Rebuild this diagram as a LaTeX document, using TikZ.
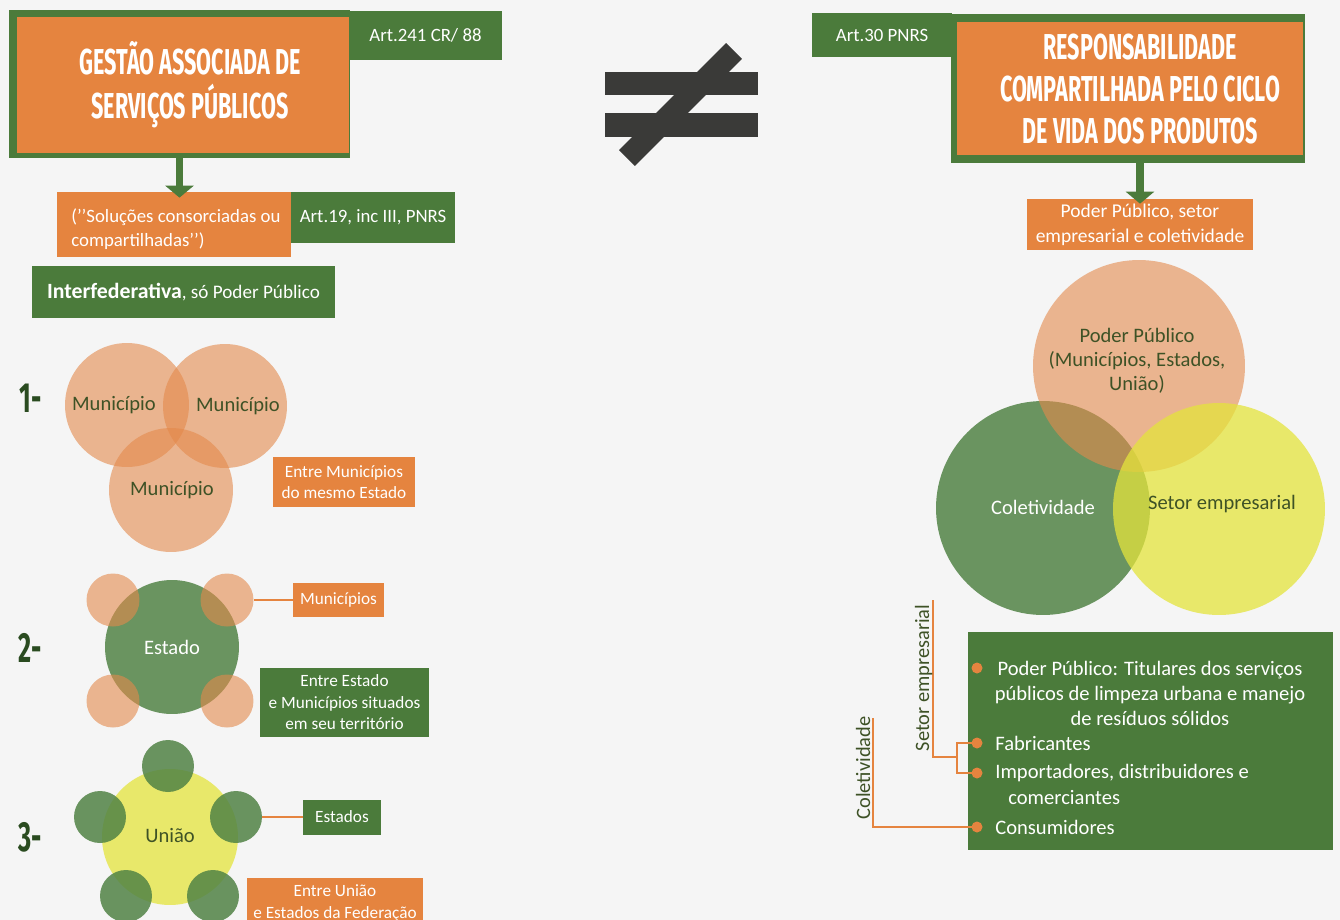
\documentclass[tikz,border=0pt]{standalone}
\usepackage{fontspec}
\setmainfont{Carlito}
\newfontfamily\condfont[FakeStretch=0.6]{Fira Sans}
\usetikzlibrary{arrows.meta}
\definecolor{bg}{HTML}{F5F5F5}
\definecolor{gbox}{HTML}{4B7B3B}
\definecolor{obox}{HTML}{E5843F}
\definecolor{numcol}{HTML}{2A4B20}
\definecolor{venntxt}{HTML}{3E5226}
\definecolor{ocircbase}{RGB}{228,137,75}
\definecolor{gcircle}{HTML}{6A9460}
\definecolor{ycircbase}{RGB}{228,228,60}
\definecolor{ycircle}{HTML}{E8E86A}
\definecolor{gsmallbase}{RGB}{81,131,69}
\definecolor{neqcol}{HTML}{3A3A38}
\tikzset{
  gboxst/.style={fill=gbox, text=white, inner sep=0pt, align=center, font=\fontsize{10.7}{13.5}\selectfont},
  oboxst/.style={fill=obox, text=white, inner sep=0pt, align=center, font=\fontsize{10.7}{13.5}\selectfont},
  smallst/.style={font=\fontsize{9.8}{12.2}\selectfont},
  titlest/.style={text=white, align=center, inner sep=0pt, font=\condfont\bfseries\fontsize{20.5}{25}\selectfont},
  numst/.style={text=numcol, inner sep=0pt, font=\condfont\bfseries\fontsize{24}{26}\selectfont},
  ocirc/.style={circle, fill=ocircbase, fill opacity=0.6, inner sep=0pt},
  gcirc/.style={circle, fill=gcircle, inner sep=0pt},
  ycirc/.style={circle, fill=ycircbase, fill opacity=0.75, inner sep=0pt},
  gsmall/.style={circle, fill=gsmallbase, fill opacity=0.85, inner sep=0pt},
  venntext/.style={text=venntxt, inner sep=0pt, align=center, font=\fontsize{11.7}{13.7}\selectfont},
  garrow/.style={draw=gbox, line width=4.5pt, -{Triangle[width=0.56cm,length=0.24cm]}},
  oline/.style={draw=obox, line width=0.9pt},
  bulletst/.style={circle, fill=obox, minimum size=0.22cm, inner sep=0pt},
  listtxt/.style={text=white, inner sep=0pt, align=center, font=\fontsize{11.7}{14.2}\selectfont},
  sidelabel/.style={text=venntxt, inner sep=0pt, rotate=90, anchor=base, font=\fontsize{11.6}{13}\selectfont},
}
\begin{document}
\begin{tikzpicture}[x=0.02cm, y=-0.02cm]
\useasboundingbox (0,0) rectangle (1340,920);
\fill[bg] (0,0) rectangle (1340,920);
\clip (0,0) rectangle (1340,920);

% ---------- not-equal sign ----------
\fill[neqcol] (605,72) rectangle (758,95);
\fill[neqcol] (605,113) rectangle (758,137);
\draw[neqcol, line width=0.45cm] (627,158) -- (734,51);

% ---------- left header ----------
\node[fill=gbox, minimum width=6.82cm, minimum height=2.96cm, inner sep=0pt] (lframe) at (179.5,84) {};
\node[fill=obox, minimum width=6.64cm, minimum height=2.72cm, inner sep=0pt] (lhead) at (183,85) {};
\node[titlest] (ltitle) at (190,85) {GESTÃO ASSOCIADA DE\\SERVIÇOS PÚBLICOS};
\node[gboxst, minimum width=3.06cm, minimum height=0.98cm] (art241) at (425.5,35.5) {Art.241 CR/ 88};

\node[oboxst, minimum width=4.68cm, minimum height=1.3cm] (sol) at (174,224.5) {};
\node[text=white, inner sep=0pt, anchor=west, align=left, font=\fontsize{10.7}{13.7}\selectfont] (soltext) at (71,229) {(’’Soluções consorciadas ou\\compartilhadas’’)};
\node[gboxst, minimum width=3.28cm, minimum height=1.02cm] (art19) at (373,217.5) {Art.19, inc III, PNRS};
\draw[garrow, shorten >=-0.12cm] (lframe.south) -- (lframe.south |- sol.north);
\node[gboxst, minimum width=6.06cm, minimum height=1.04cm, font=\fontsize{10.9}{13}\selectfont] (inter) at (183.5,292) {{\fontsize{12.4}{14}\selectfont\bfseries Interfederativa}, só Poder Público};

% ---------- section 1 ----------
\node[numst] (n1) at (31,398) {1-};
\node[ocirc, minimum size=2.48cm] (m1) at (127,405) {};
\node[ocirc, minimum size=2.48cm] (m2) at (225,406) {};
\node[ocirc, minimum size=2.48cm] (m3) at (171,490) {};
\node[venntext] (m1t) at (114,405) {Município};
\node[venntext] (m2t) at (238,406) {Município};
\node[venntext] (m3t) at (172,490) {Município};
\node[oboxst, smallst, minimum width=2.84cm, minimum height=1.0cm] (entremun) at (344,482) {Entre Municípios\\do mesmo Estado};

% ---------- section 2 ----------
\node[numst] (n2) at (30,648) {2-};
\node[gcirc, minimum size=2.68cm] (estado) at (172,647) {};
\node[ocirc, minimum size=1.06cm] (s2tl) at (113,600) {};
\node[ocirc, minimum size=1.06cm] (s2tr) at (227,600) {};
\node[ocirc, minimum size=1.06cm] (s2bl) at (113,701) {};
\node[ocirc, minimum size=1.06cm] (s2br) at (227,701) {};
\node[text=white, inner sep=0pt, font=\fontsize{11.7}{13}\selectfont] (estadot) at (172,647) {Estado};
\node[oboxst, smallst, minimum width=1.82cm, minimum height=0.68cm] (munbox) at (338.5,600) {Municípios};
\draw[oline] (s2tr.east) -- (munbox.west);
\node[gboxst, smallst, minimum width=3.38cm, minimum height=1.38cm] (entreest) at (344.5,702.5) {Entre Estado\\e Municípios situados\\em seu território};

% ---------- section 3 ----------
\node[numst] (n3) at (30,837) {3-};
\node[circle, fill=ycircle, inner sep=0pt, minimum size=2.72cm] (uniao) at (170,837) {};
\node[gsmall, minimum size=1.04cm] (s3t) at (168,766) {};
\node[gsmall, minimum size=1.04cm] (s3l) at (100,817) {};
\node[gsmall, minimum size=1.04cm] (s3r) at (236,817) {};
\node[gsmall, minimum size=1.04cm] (s3bl) at (126,896) {};
\node[gsmall, minimum size=1.04cm] (s3br) at (213,896) {};
\node[venntext] (uniaot) at (170,835) {União};
\node[gboxst, smallst, minimum width=1.56cm, minimum height=0.7cm] (estbox) at (342,817) {Estados};
\draw[oline] (s3r.east) -- (estbox.west);
\node[oboxst, smallst, minimum width=3.52cm, minimum height=1.0cm] (entreuni) at (335,903) {Entre União\\e Estados da Federação};

% ---------- right header ----------
\node[gboxst, minimum width=2.8cm, minimum height=0.88cm] (art30) at (882,35) {Art.30 PNRS};
\node[fill=gbox, minimum width=7.08cm, minimum height=2.98cm, inner sep=0pt] (rframe) at (1128,88.5) {};
\node[fill=obox, minimum width=6.92cm, minimum height=2.66cm, inner sep=0pt] (rhead) at (1130,88.5) {};
\node[titlest, font=\condfont\bfseries\fontsize{20.5}{24}\selectfont] (rtitle) at (1140,89) {RESPONSABILIDADE\\COMPARTILHADA PELO CICLO\\DE VIDA DOS PRODUTOS};
\node[oboxst, minimum width=4.52cm, minimum height=1.02cm, font=\fontsize{11.1}{14.2}\selectfont] (poder) at (1140,224.5) {Poder Público, setor\\empresarial e coletividade};
\draw[garrow, shorten >=-0.1cm] (poder.north |- rframe.south) -- (poder.north);

% ---------- right Venn ----------
\node[gcirc, minimum size=4.28cm] (colet) at (1043,508) {};
\node[ocirc, minimum size=4.24cm] (pp) at (1139,366) {};
\node[ycirc, minimum size=4.24cm] (setor) at (1219,509) {};
\node[venntext] (ppt) at (1137,361) {Poder Público\\(Municípios, Estados,\\União)};
\node[venntext, text=white] (colett) at (1043,507) {Coletividade};
\node[venntext] (setort) at (1222,504) {Setor empresarial};

% ---------- list box ----------
\node[fill=gbox, minimum width=7.3cm, minimum height=4.36cm, inner sep=0pt] (list) at (1150.5,741) {};
\coordinate (brk) at (957,757);
\coordinate (setop) at (933,600);
\coordinate (coltop) at (873,718);
\coordinate (cb2) at (977,743);
\coordinate (cb3) at (977,773);
\coordinate (cb4) at (977,827);
\draw[oline] (cb2) -| (brk) |- (cb3);
\draw[oline] (setop) |- (brk);
\draw[oline] (coltop) |- (cb4);
\node[bulletst] (b1) at (977,668) {};
\node[bulletst] (b2) at (cb2) {};
\node[bulletst] (b3) at (cb3) {};
\node[bulletst] (b4) at (cb4) {};
\node[listtxt] (l1) at (1150,693) {Poder Público: Titulares dos serviços\\públicos de limpeza urbana e manejo\\de resíduos sólidos};
\node[listtxt, anchor=west] (l2) at (995,743) {Fabricantes};
\node[listtxt, anchor=west] (l3) at (995,773) {Importadores, distribuidores e};
\node[listtxt, anchor=west] (l3b) at (1008,797) {comerciantes};
\node[listtxt, anchor=west] (l4) at (995,827) {Consumidores};
\node[sidelabel] (setl) at (929,678) {Setor empresarial};
\node[sidelabel] (coll) at (870,768) {Coletividade};
\end{tikzpicture}
\end{document}
